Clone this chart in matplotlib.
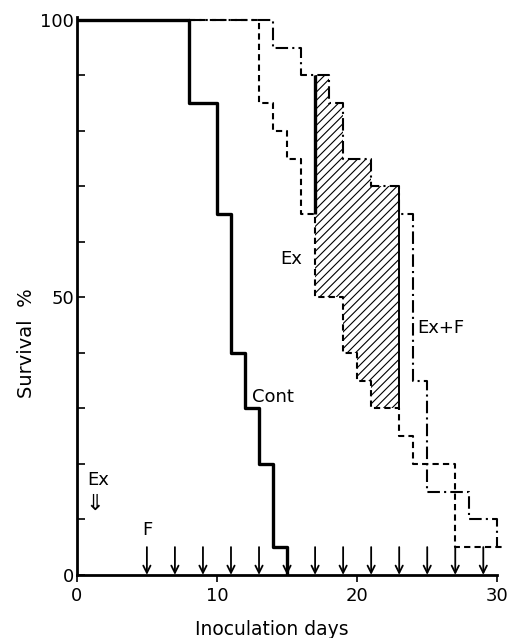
import numpy as np
import matplotlib
matplotlib.use("Agg")
import matplotlib.pyplot as plt

# survival curves (step, value holds until next day)
cont_days = [0, 8, 10, 11, 12, 13, 14, 15]
cont_surv = [100, 85, 65, 40, 30, 20, 5, 0]

ex_days = [8, 13, 14, 15, 16, 17, 19, 20, 21, 23, 24, 27, 30.3]
ex_surv = [100, 85, 80, 75, 65, 50, 40, 35, 30, 25, 20, 5, 5]

exf_days = [8, 14, 16, 18, 19, 21, 23, 24, 25, 28, 30]
exf_surv = [100, 95, 90, 85, 75, 70, 65, 35, 15, 10, 5]

hatch_days = [17, 18, 19, 20, 21, 23]
f_days = [5, 7, 9, 11, 13, 15, 17, 19, 21, 23, 25, 27, 29]


def step_at(days, surv, x):
    idx = np.searchsorted(days, x, side="right") - 1
    return np.asarray(surv)[idx]


plt.rcParams["font.family"] = ["DejaVu Sans"]
plt.rcParams["hatch.linewidth"] = 0.8
fig = plt.figure(figsize=(5.12, 6.38), dpi=100)
ax = fig.add_axes([0.150, 0.099, 0.835, 0.874])

lower = step_at(ex_days, ex_surv, hatch_days)
upper = step_at(exf_days, exf_surv, hatch_days)
ax.fill_between(hatch_days, lower, upper, step="post", facecolor="white",
                edgecolor="black", hatch="////", linewidth=0)

ax.step(cont_days, cont_surv, where="post", color="black", lw=2.4)
ax.step(ex_days, ex_surv, where="post", color="black", lw=1.5,
        linestyle=(0, (3, 2)))
ax.step(exf_days, exf_surv, where="post", color="black", lw=1.5,
        linestyle=(0, (6, 2, 1, 2)))
ax.vlines(17, 65, 90, color="black", lw=2.4)
ax.vlines(23, 30, 70, color="black", lw=1.4)

# F injections
for d in f_days:
    ax.annotate("", xy=(d, 0), xytext=(d, 5),
                arrowprops=dict(arrowstyle="->", lw=1.3, color="black",
                                mutation_scale=13, shrinkA=0, shrinkB=0))
ax.text(5, 6.5, "F", ha="center", va="bottom", fontsize=13)
ax.text(1.5, 15.5, "Ex", ha="center", va="bottom", fontsize=13)
ax.text(1.3, 14.5, "\u21d3", ha="center", va="top", fontsize=16)

ax.text(12.5, 32, "Cont", ha="left", va="center", fontsize=13)
ax.text(14.5, 57, "Ex", ha="left", va="center", fontsize=13)
ax.text(24.3, 44.5, "Ex+F", ha="left", va="center", fontsize=13)

ax.set_xlim(0, 30.5)
ax.set_ylim(0, 100.5)
ax.spines["top"].set_visible(False)
ax.spines["right"].set_visible(False)
ax.spines["left"].set_linewidth(2)
ax.spines["bottom"].set_linewidth(2)
ax.spines["bottom"].set_bounds(0, 30)

ax.set_yticks(range(0, 101, 10))
ax.set_yticklabels(["0", "", "", "", "", "50", "", "", "", "", "100"])
ax.tick_params(axis="y", direction="in", length=6, width=1.2, labelsize=13, pad=2)
ax.set_xticks([0, 10, 20, 30])
ax.tick_params(axis="x", direction="out", length=5, width=1.2, labelsize=13)

ax.set_ylabel("Survival  %", fontsize=14)
ax.yaxis.set_label_coords(-0.095, 0.416)
ax.set_xlabel("Inoculation days", fontsize=13.5)
ax.xaxis.set_label_coords(0.456, -0.081)

fig.savefig("out.png", dpi=100)
